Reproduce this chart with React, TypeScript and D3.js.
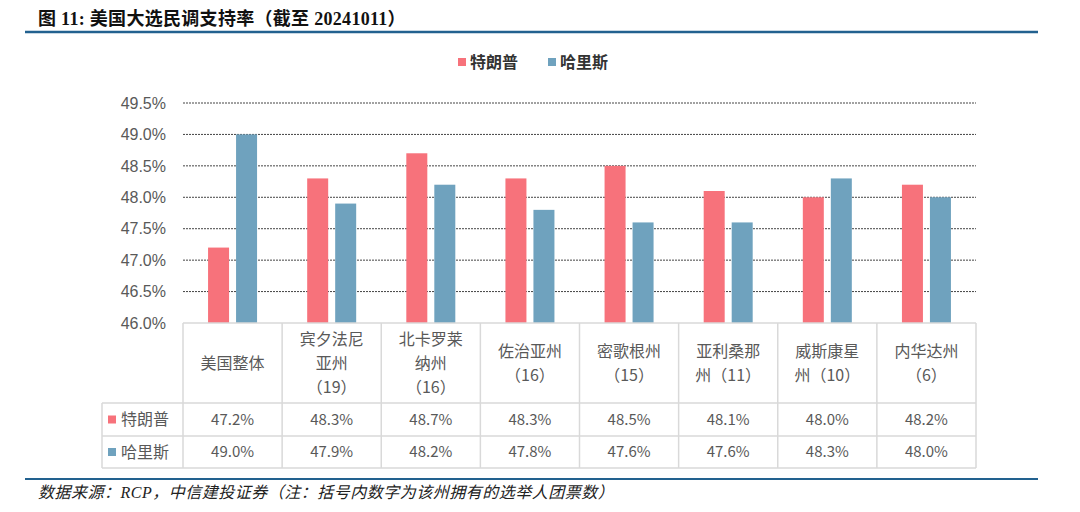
import React, { useEffect, useRef } from 'react';
import * as d3 from 'd3';

// 民调数据（截至 2024-10-11）
const categories = ['美国整体', '宾夕法尼亚州', '北卡罗莱纳州', '佐治亚州', '密歌根州', '亚利桑那州', '威斯康星州', '内华达州'];
const categoryLines = [
  ['美国整体'],
  ['宾夕法尼', '亚州', '（19）'],
  ['北卡罗莱', '纳州', '（16）'],
  ['佐治亚州', '（16）'],
  ['密歌根州', '（15）'],
  ['亚利桑那', '州（11）'],
  ['威斯康星', '州（10）'],
  ['内华达州', '（6）'],
];
const seriesNames = ['特朗普', '哈里斯'];
const trump = [47.2, 48.3, 48.7, 48.3, 48.5, 48.1, 48.0, 48.2];
const harris = [49.0, 47.9, 48.2, 47.8, 47.6, 47.6, 48.3, 48.0];
const yTicks = [46.0, 46.5, 47.0, 47.5, 48.0, 48.5, 49.0, 49.5];
const colors = ['#f7727b', '#6fa2be'];

const W = 1080;
const H = 512;
const cjk = '"Noto Sans CJK SC", sans-serif';
const grey = '#595959';

const App = () => {
  const svgRef = useRef<SVGSVGElement>(null);

  useEffect(() => {
    const svg = d3.select(svgRef.current);
    svg.selectAll('*').remove();

    const left = 183, right = 976, top = 103, bottom = 323;
    const x = d3.scaleBand().domain(categories).range([left, right]).padding(0);
    const bw = x.bandwidth();
    const xs = d3.scaleBand().domain(seriesNames)
      .range([bw / 2 - 28, bw / 2 + 28])
      .paddingInner(0.25).paddingOuter(0.125);
    const y = d3.scaleLinear().domain([46, 49.5]).range([bottom, top]);

    // title
    svg.append('text')
      .attr('x', 38).attr('y', 25)
      .style('font-family', '"Liberation Serif", "Noto Sans CJK SC", serif')
      .style('font-weight', 'bold')
      .style('font-size', '18px')
      .style('letter-spacing', '0.3px')
      .style('fill', '#111')
      .text('图 11: 美国大选民调支持率（截至 20241011）');

    svg.append('line')
      .attr('x1', 25).attr('x2', 1038).attr('y1', 32).attr('y2', 32)
      .attr('stroke', '#22618f').attr('stroke-width', 2.5);

    // legend
    const legend = svg.append('g');
    const legX = [458, 548];
    seriesNames.forEach((s, i) => {
      legend.append('rect')
        .attr('x', legX[i]).attr('y', 58).attr('width', 8).attr('height', 8)
        .attr('fill', colors[i]);
      legend.append('text')
        .attr('x', legX[i] + 12).attr('y', 62).attr('dy', '0.36em')
        .style('font-family', cjk).style('font-weight', 'bold')
        .style('font-size', '16px').style('fill', '#333')
        .text(s);
    });

    // gridlines
    svg.append('g')
      .selectAll('line')
      .data(yTicks.filter((d) => d > 46))
      .enter()
      .append('line')
      .attr('x1', left).attr('x2', right)
      .attr('y1', (d) => y(d)).attr('y2', (d) => y(d))
      .attr('stroke', '#444').attr('stroke-width', 1)
      .attr('stroke-dasharray', '2,1');

    // y axis labels
    svg.append('g')
      .selectAll('text')
      .data(yTicks)
      .enter()
      .append('text')
      .attr('x', 166).attr('y', (d) => y(d)).attr('dy', '0.36em')
      .attr('text-anchor', 'end')
      .style('font-family', '"Liberation Sans", Arial, sans-serif')
      .style('font-size', '16px').style('fill', grey)
      .text((d) => d.toFixed(1) + '%');

    // bars
    const data = [trump, harris];
    seriesNames.forEach((s, si) => {
      svg.append('g')
        .selectAll('rect')
        .data(data[si])
        .enter()
        .append('rect')
        .attr('x', (d, i) => (x(categories[i]) as number) + (xs(s) as number))
        .attr('y', (d) => y(d))
        .attr('width', xs.bandwidth())
        .attr('height', (d) => y(46) - y(d))
        .attr('fill', colors[si]);
    });

    // data table
    const rowTop = bottom, catBottom = 403, row1 = 436, row2 = 468, tableLeft = 102;
    const border = '#d9d9d9';
    const tbl = svg.append('g');
    [rowTop, catBottom].forEach((yy, i) => {
      tbl.append('line').attr('x1', i === 0 ? left : tableLeft).attr('x2', right)
        .attr('y1', yy).attr('y2', yy).attr('stroke', border).attr('stroke-width', 1.5);
    });
    [row1, row2].forEach((yy) => {
      tbl.append('line').attr('x1', tableLeft).attr('x2', right)
        .attr('y1', yy).attr('y2', yy).attr('stroke', border).attr('stroke-width', 1.5);
    });
    tbl.append('line').attr('x1', tableLeft).attr('x2', tableLeft)
      .attr('y1', catBottom).attr('y2', row2).attr('stroke', border).attr('stroke-width', 1.5);
    [...categories.map((c) => x(c) as number), right].forEach((xx) => {
      tbl.append('line').attr('x1', xx).attr('x2', xx)
        .attr('y1', rowTop).attr('y2', row2).attr('stroke', border).attr('stroke-width', 1.5);
    });

    // category labels
    categories.forEach((c, i) => {
      const lines = categoryLines[i];
      const cx = (x(c) as number) + bw / 2;
      const cy = (rowTop + catBottom) / 2;
      lines.forEach((ln, li) => {
        tbl.append('text')
          .attr('x', cx)
          .attr('y', cy + (li - (lines.length - 1) / 2) * 24)
          .attr('dy', '0.36em')
          .attr('text-anchor', 'middle')
          .style('font-family', cjk).style('font-size', '16px').style('fill', grey)
          .text(ln);
      });
    });

    // series rows
    const rowCenters = [(catBottom + row1) / 2, (row1 + row2) / 2];
    seriesNames.forEach((s, si) => {
      tbl.append('rect')
        .attr('x', 108).attr('y', rowCenters[si] - 4).attr('width', 8).attr('height', 8)
        .attr('fill', colors[si]);
      tbl.append('text')
        .attr('x', 121).attr('y', rowCenters[si]).attr('dy', '0.36em')
        .style('font-family', cjk).style('font-size', '16px').style('fill', grey)
        .text(s);
      data[si].forEach((v, i) => {
        tbl.append('text')
          .attr('x', (x(categories[i]) as number) + bw / 2)
          .attr('y', rowCenters[si]).attr('dy', '0.36em')
          .attr('text-anchor', 'middle')
          .style('font-family', cjk).style('font-size', '15px').style('fill', grey)
          .text(v.toFixed(1) + '%');
      });
    });

    // source
    svg.append('line')
      .attr('x1', 25).attr('x2', 1038).attr('y1', 479).attr('y2', 479)
      .attr('stroke', '#22618f').attr('stroke-width', 2);
    svg.append('text')
      .attr('x', 38).attr('y', 498)
      .style('font-family', '"Liberation Serif", "Noto Sans CJK SC", serif')
      .style('font-style', 'italic')
      .style('font-size', '16px')
      .style('letter-spacing', '0.5px')
      .style('fill', '#222')
      .text('数据来源：RCP，中信建投证券（注：括号内数字为该州拥有的选举人团票数）');
  }, []);

  return (
    <svg ref={svgRef} width={W} height={H}
      style={{ position: 'absolute', left: 0, top: 0, background: '#fff' }} />
  );
};

export default App;
